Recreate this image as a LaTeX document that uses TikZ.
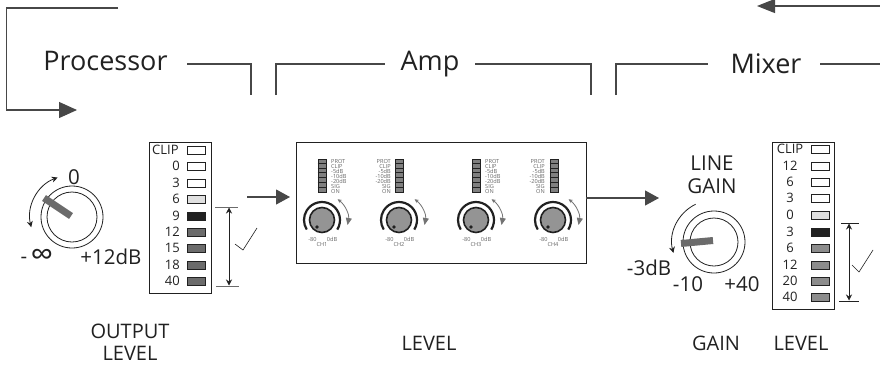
\documentclass[tikz,border=0pt]{standalone}
\usepackage{fontspec}
\setmainfont{Open Sans}
\usetikzlibrary{arrows.meta,calc}
\definecolor{ink}{gray}{0.13}
\definecolor{wirec}{gray}{0.28}
\definecolor{ledgray}{gray}{0.42}
\definecolor{ledgrayb}{gray}{0.55}
\newcommand{\fs}[1]{\fontsize{#1}{#1}\selectfont}
\tikzset{
  x=1pt,y=-1pt,
  wire/.style={draw=wirec,line width=1.1pt},
  bigarrow/.style={wire,-{Triangle[length=14pt,width=15pt]}},
  title/.style={text=ink,inner sep=0pt,anchor=base,font=\fs{27}},
  lab/.style={text=ink,inner sep=0pt,font=\fs{20.5}},
  caption/.style={text=ink,inner sep=0pt,font=\fs{20}},
  meterbox/.style={draw=ink,line width=0.9pt,fill=white},
  led/.style={draw=ink,line width=0.7pt,minimum width=18pt,minimum height=8pt,inner sep=0pt},
  ledtxt/.style={text=ink,inner sep=0pt,font=\fs{13}},
  tiny/.style={text=black!60,inner sep=0pt,font=\fs{5.6}},
  dbl/.style={draw=ink,line width=0.8pt,{Stealth[length=6pt,width=6pt]}-{Stealth[length=6pt,width=6pt]}},
}
\begin{document}
\begin{tikzpicture}
\useasboundingbox (0,0) rectangle (880,365);
\fill[white] (0,0) rectangle (880,365);

% signal path at the top
\coordinate (tla) at (118,8); \coordinate (tlb) at (6.5,8); \coordinate (tlc) at (6.5,110); \coordinate (tld) at (77,110);
\draw[wire,-{Triangle[length=18pt,width=16pt]}] (tla) -- (tlb) -- (tlc) -- (tld);
\coordinate (tra) at (880,6); \coordinate (trb) at (757,6);
\draw[wire,-{Triangle[length=18pt,width=14pt]}] (tra) -- (trb);

\node[title] (proc) at (105.5,70) {Processor};
\node[title] (amp) at (430,70) {Amp};
\node[title] (mixer) at (766,73) {Mixer};
\coordinate (p1) at (187,64); \coordinate (p2) at (251,64); \coordinate (p3) at (251,95);
\coordinate (a1) at (276,95); \coordinate (a2) at (276,64); \coordinate (a3) at (385,64);
\coordinate (a4) at (475,64); \coordinate (a5) at (591,64); \coordinate (a6) at (591,95);
\coordinate (m1) at (616,95); \coordinate (m2) at (616,64); \coordinate (m3) at (708,64);
\coordinate (m4) at (820,64); \coordinate (m5) at (880,64);
\draw[wire] (p1) -- (p2) -- (p3);
\draw[wire] (a1) -- (a2) -- (a3);
\draw[wire] (a4) -- (a5) -- (a6);
\draw[wire] (m1) -- (m2) -- (m3);
\draw[wire] (m4) -- (m5);

% output knob
\node[draw=ink,line width=0.8pt,circle,minimum size=62pt,inner sep=0pt] (kl) at (72,217) {};
\node[draw=ink,line width=0.8pt,circle,minimum size=50pt,inner sep=0pt] (kli) at (72,217) {};
\coordinate (kla) at (44,198); \coordinate (klb) at (71,216);
\draw[line width=7pt,ledgray] (kla) -- (klb);
\draw[dbl] (kl.center) ++(110:42pt) arc (110:194:42pt);
\node[lab] (l0) at (74,177) {0};
\node[lab] (linf) at (37,257) {-\,\raisebox{-1.5pt}{\fs{32}∞}};
\node[lab] (l12) at (111,257) {+12dB};

% output meter
\node[meterbox,anchor=north west,minimum width=62pt,minimum height=151pt,inner sep=0pt] (ml) at (149,142) {};
\node[ledtxt,anchor=west] (mlc) at (152,150) {CLIP};
\foreach \n/\t/\y/\c in {a/CLIP/150/white,b/0/166/white,c/3/183/white,d/6/199/black!12,e/9/216/ink,f/12/232/ledgray,g/15/248/ledgray,h/18/265/ledgray,i/40/281/ledgray}{
  \node[led,fill=\c] (ml\n) at (196.5,\y) {};
  \if\n a\else\node[ledtxt,anchor=east] (mlt\n) at (180,\y) {\t};\fi
}
\coordinate (b1a) at (215,207); \coordinate (b1b) at (238,207);
\coordinate (b2a) at (216,286); \coordinate (b2b) at (239,286);
\draw[ledgray,line width=0.9pt] (b1a) -- (b1b);
\draw[ledgray,line width=0.9pt] (b2a) -- (b2b);
\coordinate (b3a) at (229,207.5); \coordinate (b3b) at (229,285.5);
\draw[dbl] (b3a) -- (b3b);
\coordinate (c1) at (235,244); \coordinate (c2) at (243,250); \coordinate (c3) at (257,228);
\draw[ink,line width=0.6pt] (c1) -- (c2) -- (c3);
\node[caption] (ol1) at (130,331) {OUTPUT};
\node[caption] (ol2) at (130,353) {LEVEL};

% connections with the amp
\coordinate (in1) at (247,197);
\node[draw=ink,line width=0.9pt,minimum width=290pt,minimum height=121pt,inner sep=0pt] (ampbox) at (441,202.5) {};
\coordinate (in2) at (290,197);
\draw[bigarrow] (in1) -- (in2);
\coordinate (o1) at (586,198); \coordinate (o2) at (659,198);
\draw[bigarrow] (o1) -- (o2);
\node[caption] (al) at (429,343) {LEVEL};

% channels
\foreach \i/\kx/\bx/\tx/\an in {1/322/322/331/west,2/399/399.5/391/east,3/476/476.5/485/west,4/553/554/545/east}{
  \draw[line width=2.2pt,ink] (\kx,220) ++(-32:18pt) arc (-32:212:18pt);
  \node[circle,draw=ink,line width=1.6pt,fill=black!42,minimum size=25pt,inner sep=0pt] (k\i) at (\kx,220) {};
  \fill[ink] ($(k\i.center)+(-5,7)$) circle[radius=1.8pt];
  \draw[black!55,line width=0.8pt,{Stealth[length=4pt,width=4pt]}-{Triangle[length=7pt,width=6pt]}] (k\i.center) ++(53:26pt) arc (53:-11:26pt);
  \node[draw=ink,line width=0.8pt,fill=black!50,minimum width=8pt,minimum height=33pt,inner sep=0pt] (bar\i) at (\bx,175.5) {};
  \foreach \j in {1,...,6}{
    \draw[ink,line width=0.7pt] ($(bar\i.north west)+(0,\j*33/7)$) -- ($(bar\i.north east)+(0,\j*33/7)$);
  }
  \foreach \t [count=\j] in {PROT,CLIP,-5dB,-10dB,-20dB,SIG,ON}{
    \node[tiny,anchor=\an] at (\tx,156+\j*5) {\t};
  }
  \node[tiny] at ($(k\i.center)+(-9.5,19)$) {-80};
  \node[tiny] at ($(k\i.center)+(10,19)$) {0dB};
  \node[tiny] at ($(k\i.center)+(0,24)$) {CH\i};
}

% line gain knob
\node[draw=ink,line width=0.8pt,circle,minimum size=62pt,inner sep=0pt] (kr) at (714,242) {};
\node[draw=ink,line width=0.8pt,circle,minimum size=48pt,inner sep=0pt] (kri) at (714,242) {};
\coordinate (kra) at (681,243.5); \coordinate (krb) at (713,240.5);
\draw[line width=7pt,ledgray] (kra) -- (krb);
\draw[draw=ink,line width=0.8pt,-{Stealth[length=6pt,width=6pt]}] (kr.center) ++(116:42pt) arc (116:195:42pt);
\node[lab] (lg1) at (712,163) {LINE};
\node[lab] (lg2) at (712,186) {GAIN};
\node[lab] (r3) at (649,268) {-3dB};
\node[lab] (r10) at (688,284) {-10};
\node[lab] (r40) at (742,284) {+40};
\node[caption] (gl) at (716,343) {GAIN};
\node[caption] (ll) at (801,343) {LEVEL};

% line meter
\node[meterbox,anchor=north west,minimum width=62pt,minimum height=167pt,inner sep=0pt] (mr) at (772,142) {};
\node[ledtxt] (mrc) at (790,149) {CLIP};
\foreach \n/\t/\y/\c in {a/CLIP/149/white,b/12/166/white,c/6/182/white,d/3/198/white,e/0/215/black!12,f/3/232/ink,g/6/248/ledgrayb,h/12/265/ledgrayb,i/20/281/ledgrayb,j/40/297/ledgrayb}{
  \node[led,fill=\c] (mr\n) at (820,\y) {};
  \if\n a\else\node[ledtxt] (mrt\n) at (790,\y) {\t};\fi
}
\coordinate (d1a) at (841,223); \coordinate (d1b) at (859,223);
\coordinate (d2a) at (839,301); \coordinate (d2b) at (859,301);
\draw[ink,line width=0.8pt] (d1a) -- (d1b);
\draw[ink,line width=0.8pt] (d2a) -- (d2b);
\coordinate (d3a) at (849,223.5); \coordinate (d3b) at (849,300.5);
\draw[dbl] (d3a) -- (d3b);
\coordinate (e1) at (852,265); \coordinate (e2) at (859,272); \coordinate (e3) at (873,250);
\draw[ink,line width=0.6pt] (e1) -- (e2) -- (e3);
\end{tikzpicture}
\end{document}
